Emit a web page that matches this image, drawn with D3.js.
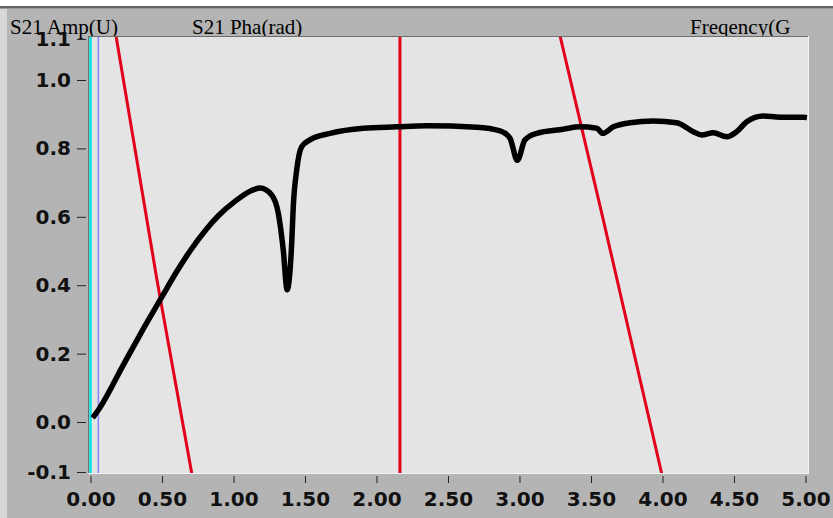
<!DOCTYPE html>
<html>
<head>
<meta charset="utf-8">
<script src="https://cdnjs.cloudflare.com/ajax/libs/d3/7.8.5/d3.min.js"></script>
<style>
body{ margin:0; background:#b4b4b4; }
svg{ display:block; }
</style>
</head>
<body>
<div id="chart"></div>
<script>
// S21 amplitude trace, frequency in GHz
var ampFreq = [0.015, 0.055, 0.227, 0.346, 0.498, 0.603, 0.696, 0.813, 0.894, 1.010, 1.127, 1.185, 1.267, 1.313, 1.348, 1.375, 1.407, 1.418, 1.442, 1.477, 1.535, 1.675, 1.908, 2.141, 2.351, 2.701, 2.864, 2.933, 2.985, 3.038, 3.120, 3.306, 3.423, 3.540, 3.582, 3.656, 3.773, 3.936, 4.099, 4.215, 4.274, 4.355, 4.449, 4.519, 4.589, 4.705, 4.822, 4.985, 5.010];
var ampValue = [0.012, 0.035, 0.165, 0.255, 0.365, 0.440, 0.500, 0.565, 0.603, 0.645, 0.677, 0.684, 0.664, 0.611, 0.503, 0.387, 0.523, 0.630, 0.737, 0.805, 0.825, 0.844, 0.859, 0.863, 0.866, 0.862, 0.851, 0.830, 0.765, 0.825, 0.844, 0.856, 0.863, 0.859, 0.844, 0.863, 0.875, 0.880, 0.875, 0.849, 0.839, 0.846, 0.834, 0.849, 0.878, 0.895, 0.891, 0.891, 0.890];

// S21 phase trace (rad), drawn in wrapped pieces
var phaseFreq = [
    [0.178, 0.463, 0.708],
    [2.164, 2.164],
    [3.283, 3.586, 3.994]
];
var phaseValue = [
    [1.13, 0.42, -0.15],
    [1.13, -0.15],
    [1.13, 0.591, -0.15]
];

// cursors
var cursorFreq = [0.0, 0.055];
var cursorColor = ["#00e4e4", "#8484ff"];

// axis ticks (end labels sit on the plot edges)
var xTicks = [0, 0.5, 1, 1.5, 2, 2.5, 3, 3.5, 4, 4.5, 5];
var yTicks = [-0.146, 0, 0.2, 0.4, 0.6, 0.8, 1.0, 1.12];

var width = 833;
var height = 518;
//Plot area in px
var plotLeft = 89, plotRight = 808, plotTop = 37, plotBottom = 473;

var x = d3.scaleLinear().domain([-0.0105, 5.0175]).range([plotLeft, plotRight]);
var y = d3.scaleLinear().domain([-0.149, 1.1257]).range([plotBottom, plotTop]);

var locale = d3.formatLocale({ decimal: ".", thousands: ",", grouping: [3], currency: ["", ""], minus: "-" });

var svg = d3.select("#chart")
    .append("svg")
    .attr("width", width)
    .attr("height", height);

//Window frame
svg.append("rect").attr("x", 0).attr("y", 0).attr("width", width).attr("height", height).attr("fill", "#b4b4b4");
svg.append("rect").attr("x", 0).attr("y", 0).attr("width", width).attr("height", 6).attr("fill", "#ffffff");
svg.append("rect").attr("x", 0).attr("y", 6).attr("width", width).attr("height", 2).attr("fill", "#646464");
svg.append("rect").attr("x", 0).attr("y", 8).attr("width", width).attr("height", 1).attr("fill", "#9c9c9c");
svg.append("rect").attr("x", 0).attr("y", 9).attr("width", 7).attr("height", height - 9).attr("fill", "#d8d8d8");

//Top labels
var labels = [
    { text: "S21 Amp(U)", x: 10 },
    { text: "S21 Pha(rad)", x: 192 },
    { text: "Freqency(G", x: 690 }
];
svg.selectAll(".topLabel")
    .data(labels)
    .enter()
    .append("text")
    .attr("class", "topLabel")
    .attr("x", function(d){ return d.x; })
    .attr("y", 34)
    .attr("font-family", "Liberation Serif, Times New Roman, serif")
    .attr("font-size", 21)
    .attr("fill", "#000")
    .text(function(d){ return d.text; });

//Plot background drawn over label descenders
svg.append("rect")
    .attr("x", plotLeft)
    .attr("y", plotTop)
    .attr("width", plotRight - plotLeft)
    .attr("height", plotBottom - plotTop)
    .attr("fill", "#e4e4e4");
svg.append("line").attr("x1", plotLeft - 0.5).attr("x2", plotLeft - 0.5).attr("y1", plotTop - 1).attr("y2", plotBottom + 1).attr("stroke", "#6e6e6e");
svg.append("line").attr("x1", plotLeft - 1).attr("x2", plotRight + 1).attr("y1", plotTop - 0.5).attr("y2", plotTop - 0.5).attr("stroke", "#6e6e6e");
svg.append("line").attr("x1", plotLeft - 1).attr("x2", plotRight + 1).attr("y1", plotBottom + 0.5).attr("y2", plotBottom + 0.5).attr("stroke", "#f4f4f4");
svg.append("line").attr("x1", plotRight + 0.5).attr("x2", plotRight + 0.5).attr("y1", plotTop - 1).attr("y2", plotBottom + 1).attr("stroke", "#f4f4f4");

svg.append("clipPath")
    .attr("id", "plotClip")
    .append("rect")
    .attr("x", plotLeft)
    .attr("y", plotTop)
    .attr("width", plotRight - plotLeft)
    .attr("height", plotBottom - plotTop);

var plot = svg.append("g").attr("clip-path", "url(#plotClip)");

//Cursors
plot.selectAll(".cursor")
    .data(cursorFreq)
    .enter()
    .append("line")
    .attr("class", "cursor")
    .attr("x1", function(d){ return x(d); })
    .attr("x2", function(d){ return x(d); })
    .attr("y1", plotTop)
    .attr("y2", plotBottom)
    .attr("stroke", function(d, i){ return cursorColor[i]; })
    .attr("stroke-width", function(d, i){ return i == 0 ? 2.5 : 1.5; });

var line = d3.line()
    .x(function(d){ return x(d[0]); })
    .y(function(d){ return y(d[1]); });

//Phase pieces
phaseFreq.forEach(function(freqs, i){
    var pts = freqs.map(function(f, j){ return [f, phaseValue[i][j]]; });
    plot.append("path")
        .attr("d", line(pts))
        .attr("fill", "none")
        .attr("stroke", "#e3001b")
        .attr("stroke-width", 3);
});

//Amplitude
var ampPts = ampFreq.map(function(f, i){ return [f, ampValue[i]]; });
plot.append("path")
    .attr("d", line.curve(d3.curveMonotoneX)(ampPts))
    .attr("fill", "none")
    .attr("stroke", "#000")
    .attr("stroke-width", 5.5)
    .attr("stroke-linejoin", "round");

//Axes
var yAxis = d3.axisLeft(y)
    .tickValues(yTicks)
    .tickFormat(locale.format(".1f"))
    .tickSize(9)
    .tickPadding(6);
var xAxis = d3.axisBottom(x)
    .tickValues(xTicks)
    .tickFormat(d3.format(".2f"))
    .tickSize(7)
    .tickPadding(9);

var gy = svg.append("g").attr("transform", "translate(86,0)").call(yAxis);
var gx = svg.append("g").attr("transform", "translate(0,476)").call(xAxis);

[gx, gy].forEach(function(g){
    g.select(".domain").remove();
    g.selectAll(".tick line").attr("stroke", "#222");
    g.selectAll(".tick text")
        .attr("font-family", "DejaVu Sans, sans-serif")
        .attr("font-weight", "bold")
        .attr("font-size", 20)
        .attr("fill", "#111");
});
</script>
</body>
</html>
